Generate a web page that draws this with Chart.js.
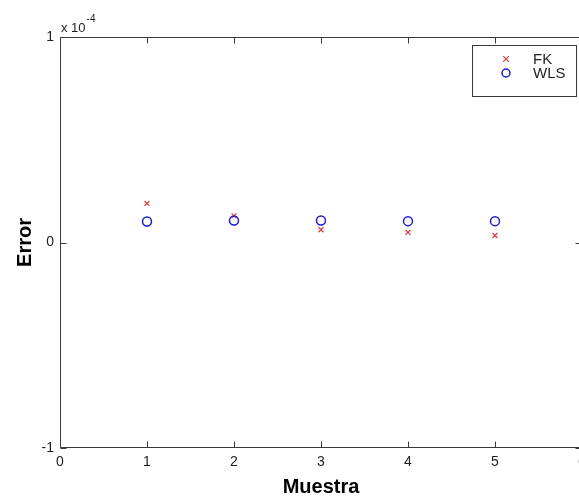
<!DOCTYPE html>
<html>
<head>
<meta charset="utf-8">
<script src="https://cdn.jsdelivr.net/npm/chart.js@4/dist/chart.umd.min.js"></script>
<style>
  html, body { margin: 0; padding: 0; background: #ffffff; overflow: hidden; }
  #wrap { width: 579px; height: 496px; position: relative; overflow: hidden; }
  canvas { display: block; }
</style>
</head>
<body>
<div id="wrap"><canvas id="c" width="600" height="496"></canvas></div>
<script>
// ---- data ----
const samples = [1, 2, 3, 4, 5];
const fkError = [1.9e-5, 1.3e-5, 0.62e-5, 0.49e-5, 0.34e-5];
const wlsError = [1.02e-5, 1.07e-5, 1.07e-5, 1.04e-5, 1.04e-5];
const seriesNames = ['FK', 'WLS'];
const xTicks = [0, 1, 2, 3, 4, 5, 6];
const yTicks = [-1e-4, 0, 1e-4];
const xTitle = 'Muestra';
const yTitle = 'Error';
const exponentBase = 'x 10';
const exponentPow = '-4';

const FONT = '"Liberation Sans", Arial, sans-serif';
const AXIS_COLOR = '#3a3a3a';
const TEXT_COLOR = '#1e1e1e';
const FK_COLOR = '#e03a3a';
const WLS_COLOR = '#1c1cd0';

const frame = {
  id: 'frame',
  afterDatasetsDraw(chart) {
    const ctx = chart.ctx;
    const a = chart.chartArea;
    const xs = chart.scales.x, ys = chart.scales.y;
    ctx.save();
    ctx.strokeStyle = AXIS_COLOR;
    ctx.lineWidth = 1;
    const L = Math.round(a.left) + 0.5, R = Math.round(a.right) - 0.5;
    const T = Math.round(a.top) + 0.5, B = Math.round(a.bottom) - 0.5;
    ctx.beginPath();
    ctx.moveTo(L, T); ctx.lineTo(R, T); ctx.lineTo(R, B); ctx.lineTo(L, B); ctx.closePath();
    ctx.stroke();
    const tl = 6;
    ctx.beginPath();
    xTicks.forEach(v => {
      const px = Math.round(xs.getPixelForValue(v)) + 0.5;
      ctx.moveTo(px, B); ctx.lineTo(px, B - tl);
      ctx.moveTo(px, T); ctx.lineTo(px, T + tl);
    });
    yTicks.forEach(v => {
      const py = Math.round(ys.getPixelForValue(v)) + 0.5;
      ctx.moveTo(L, py); ctx.lineTo(L + tl, py);
      ctx.moveTo(R, py); ctx.lineTo(R - tl, py);
    });
    ctx.stroke();

    // exponent label
    ctx.fillStyle = TEXT_COLOR;
    ctx.textAlign = 'left';
    ctx.textBaseline = 'alphabetic';
    ctx.font = '13px ' + FONT;
    ctx.fillText(exponentBase, 61, 32);
    const w = ctx.measureText(exponentBase).width;
    ctx.font = '10px ' + FONT;
    ctx.fillText(exponentPow, 61 + w + 1, 22);

    // axis titles
    ctx.font = 'bold 20px ' + FONT;
    ctx.fillStyle = '#000';
    ctx.textAlign = 'center';
    ctx.textBaseline = 'alphabetic';
    ctx.fillText(xTitle, 321, 493);
    ctx.save();
    ctx.translate(31, (a.top + a.bottom) / 2);
    ctx.rotate(-Math.PI / 2);
    ctx.fillText(yTitle, 0, 0);
    ctx.restore();

    // legend
    const bx = 472.5, by = 45.5, bw = 104, bh = 51;
    ctx.fillStyle = '#fff';
    ctx.fillRect(bx, by, bw, bh);
    ctx.strokeStyle = AXIS_COLOR;
    ctx.strokeRect(bx, by, bw, bh);
    const rows = [
      { y: 59, color: FK_COLOR, style: 'x' },
      { y: 73, color: WLS_COLOR, style: 'o' }
    ];
    rows.forEach((r, i) => {
      const mx = 506;
      ctx.strokeStyle = r.color;
      if (r.style === 'x') {
        ctx.lineWidth = 1.2;
        ctx.beginPath();
        ctx.moveTo(mx - 2.8, r.y - 2.8); ctx.lineTo(mx + 2.8, r.y + 2.8);
        ctx.moveTo(mx + 2.8, r.y - 2.8); ctx.lineTo(mx - 2.8, r.y + 2.8);
        ctx.stroke();
      } else {
        ctx.lineWidth = 1.5;
        ctx.beginPath();
        ctx.arc(mx, r.y, 4, 0, Math.PI * 2);
        ctx.stroke();
      }
      ctx.fillStyle = TEXT_COLOR;
      ctx.font = '15px ' + FONT;
      ctx.textAlign = 'left';
      ctx.textBaseline = 'middle';
      ctx.fillText(seriesNames[i], 533, r.y + 1);
    });
    ctx.restore();
  }
};

new Chart(document.getElementById('c'), {
  type: 'scatter',
  data: {
    datasets: [
      {
        label: seriesNames[1],
        data: samples.map((s, i) => ({ x: s, y: wlsError[i] })),
        pointStyle: 'circle',
        pointRadius: 4.5,
        pointHoverRadius: 4.5,
        borderColor: WLS_COLOR,
        backgroundColor: 'rgba(0,0,0,0)',
        pointBorderWidth: 1.5
      },
      {
        label: seriesNames[0],
        data: samples.map((s, i) => ({ x: s, y: fkError[i] })),
        pointStyle: 'crossRot',
        pointRadius: 3.5,
        pointHoverRadius: 3.5,
        borderColor: FK_COLOR,
        backgroundColor: FK_COLOR,
        pointBorderWidth: 1.2
      }
    ]
  },
  options: {
    responsive: false,
    animation: false,
    devicePixelRatio: 1,
    layout: { padding: { top: 37, right: 18, left: 0, bottom: 0 } },
    plugins: { legend: { display: false }, tooltip: { enabled: false } },
    scales: {
      x: {
        type: 'linear',
        min: 0, max: 6,
        afterBuildTicks: s => { s.ticks = xTicks.map(v => ({ value: v })); },
        afterFit: s => { s.height = 48; },
        grid: { display: false, drawTicks: false },
        border: { display: false },
        ticks: {
          autoSkip: false, maxRotation: 0, padding: 6,
          color: TEXT_COLOR,
          font: { family: FONT, size: 14 },
          callback: v => String(v)
        }
      },
      y: {
        type: 'linear',
        min: -1e-4, max: 1e-4,
        afterBuildTicks: s => { s.ticks = yTicks.map(v => ({ value: v })); },
        afterFit: s => { s.width = 60; s.paddingTop = 0; s.paddingBottom = 0; },
        grid: { display: false, drawTicks: false },
        border: { display: false },
        ticks: {
          autoSkip: false, padding: 6,
          color: TEXT_COLOR,
          font: { family: FONT, size: 14 },
          callback: v => String(Math.round(v / 1e-4))
        }
      }
    }
  },
  plugins: [frame]
});
</script>
</body>
</html>
